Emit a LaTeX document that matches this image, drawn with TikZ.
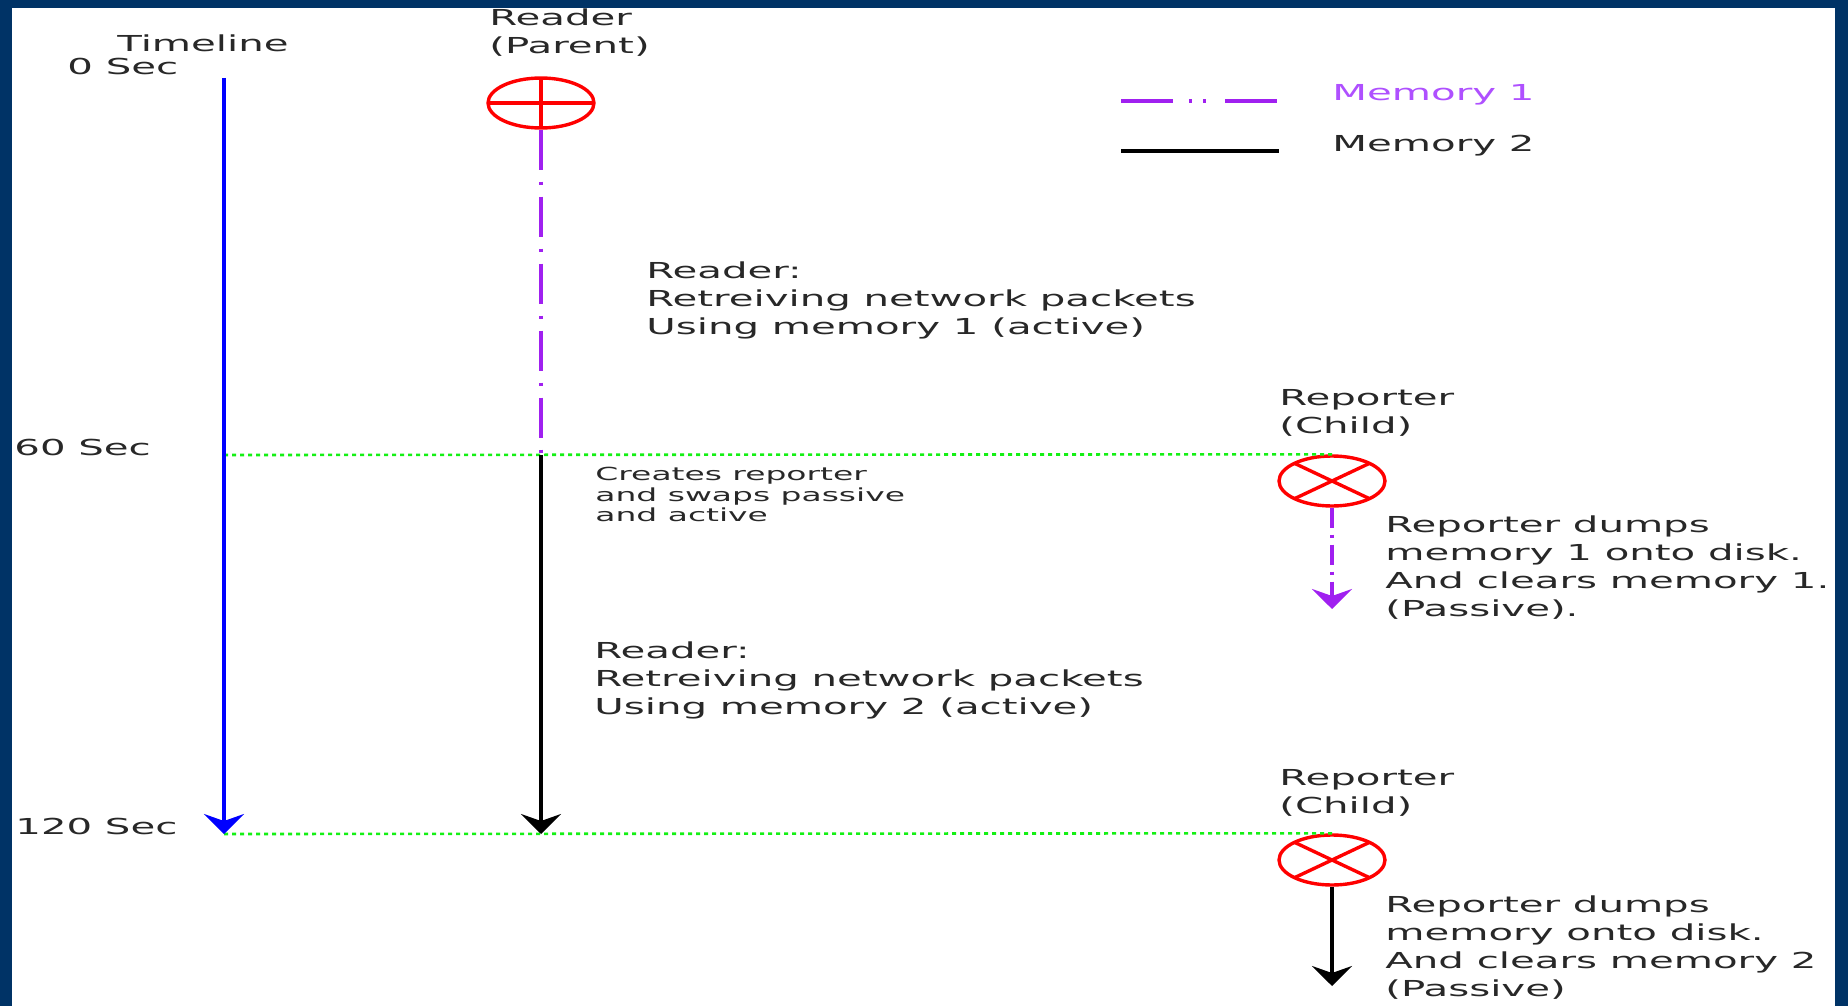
\documentclass[tikz,border=0pt]{standalone}
\usepackage{fontspec}
\usepackage{tikz}
\usetikzlibrary{arrows.meta,shapes.geometric}

\newfontfamily\diagfont[FakeStretch=1.83]{DejaVu Sans}

\definecolor{framenavy}{RGB}{0,51,102}
\definecolor{memone}{RGB}{160,32,240}
\definecolor{memonetext}{RGB}{175,80,255}
\definecolor{tickgreen}{RGB}{20,240,20}
\definecolor{inkgray}{RGB}{40,40,40}

\tikzset{
  lbl/.style={anchor=base west,inner sep=0pt,align=left,text=inkgray,
    font=\diagfont\fontsize{11}{14}\selectfont},
  blocklbl/.style={lbl,anchor=north west},
  smalllbl/.style={blocklbl,font=\diagfont\fontsize{9}{10.3}\selectfont},
  procmark/.style={ellipse,draw=red,line width=1.7pt,inner sep=0pt,
    minimum width=53pt,minimum height=25pt},
  parentmark/.style={procmark,path picture={
    \draw[red,line width=1.7pt] (path picture bounding box.north) -- (path picture bounding box.south)
      (path picture bounding box.west) -- (path picture bounding box.east);}},
  childmark/.style={procmark,path picture={
    \draw[red,line width=1.7pt] (path picture bounding box.north west) -- (path picture bounding box.south east)
      (path picture bounding box.north east) -- (path picture bounding box.south west);}},
  memoneline/.style={memone,line width=2pt,dash pattern=on 20pt off 6pt on 1.5pt off 6pt},
  memonedown/.style={memone,line width=2pt,dash pattern=on 10pt off 3.5pt on 1.5pt off 3.5pt},
  memtwoline/.style={black,line width=2pt},
  tickline/.style={tickgreen,line width=1.3pt,dash pattern=on 2pt off 2pt},
  tip/.style={-{Stealth[length=10pt,width=20pt,inset=3.5pt]}}
}

\begin{document}
\begin{tikzpicture}[x=0.5pt,y=0.5pt,yscale=-1,xscale=1]
\useasboundingbox (0,0) rectangle (1848,1006);
%Frame
\fill[framenavy] (0,0) rectangle (1848,1006);
\fill[white] (12,8) rectangle (1835,1006);

% Time marks
\coordinate (t0) at (224,78);
\coordinate (t60) at (224,455);
\coordinate (t120) at (224,834);
\coordinate (swap) at (541,455);
\coordinate (rdend) at (541,834);

%Shape: Ellipse (reader)
\node[parentmark] (reader) at (541,103) {};
%Shape: Ellipse (first reporter)
\node[childmark] (repa) at (1332,481) {};
%Shape: Ellipse (second reporter)
\node[childmark] (repb) at (1332,860) {};
\coordinate (repaend) at (1332,609);
\coordinate (repbend) at (1332,986);

%Straight Lines
\draw[tickline] (t60) -- (repa.north);
\draw[tickline] (t120) -- (repb.north);
\draw[blue,line width=2pt,tip] (t0) -- (t120);
\draw[memoneline] (reader.south) -- (swap);
\draw[memtwoline,tip] (swap) -- (rdend);
\draw[memonedown,tip] (repa.south) -- (repaend);
\draw[memtwoline,tip] (repb.south) -- (repbend);

% Legend
\coordinate (lga) at (1121,101);
\coordinate (lgb) at (1277,101);
\coordinate (lgc) at (1121,151);
\coordinate (lgd) at (1279,151);
\draw[memone,line width=1.7pt,dash pattern=on 26pt off 8pt on 1.5pt off 5.5pt on 1.5pt off 9.5pt] (lga) -- (lgb);
\draw[memtwoline,line width=1.7pt] (lgc) -- (lgd);
\node[lbl,text=memonetext] (legone) at (1332,101) {Memory 1};
\node[lbl] (legtwo) at (1332,152) {Memory 2};

% Text Node
\node[lbl] (tlname) at (117,52) {Timeline};
\node[lbl] (tzero) at (67,75) {0 Sec};
\node[lbl] (tsixty) at (14,455) {60 Sec};
\node[lbl] (tonetwenty) at (15,834) {120 Sec};
% Text Node
\node[blocklbl] (readername) at (489,8) {Reader\\(Parent)};
\node[blocklbl] (readone) at (646,261) {Reader:\\Retreiving network packets\\Using memory 1 (active)};
\node[smalllbl] (swapnote) at (595,467) {Creates reporter\\and swaps passive\\and active};
\node[blocklbl] (readtwo) at (594,641) {Reader:\\Retreiving network packets\\Using memory 2 (active)};
% Text Node
\node[blocklbl] (repaname) at (1279,389) {Reporter\\(Child)};
\node[blocklbl] (repanote) at (1385,515) {Reporter dumps\\memory 1 onto disk.\\And clears memory 1.\\(Passive).};
\node[blocklbl] (repbname) at (1279,769) {Reporter\\(Child)};
\node[blocklbl] (repbnote) at (1385,895) {Reporter dumps\\memory onto disk.\\And clears memory 2\\(Passive)};

\end{tikzpicture}
\end{document}
